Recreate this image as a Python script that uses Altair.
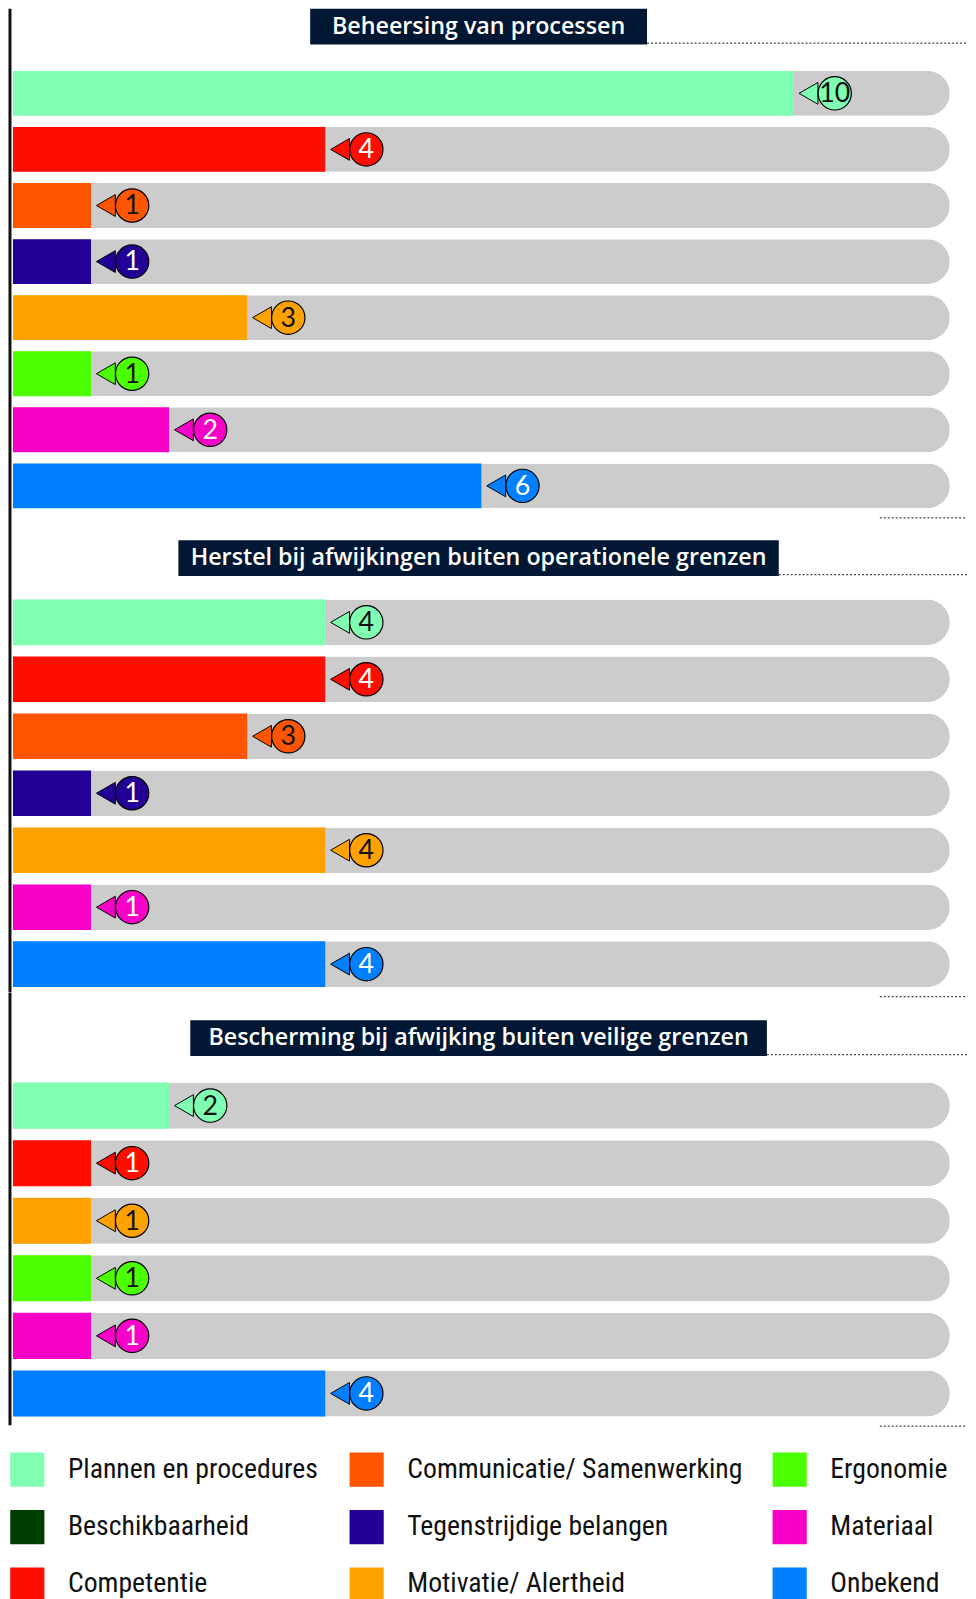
import altair as alt
import pandas as pd

# ---------------- data ----------------
CATEGORIES = ["Plannen en procedures", "Beschikbaarheid", "Competentie",
              "Communicatie/ Samenwerking", "Tegenstrijdige belangen", "Motivatie/ Alertheid",
              "Ergonomie", "Materiaal", "Onbekend"]
COLORS = ["#80FFB3", "#003D00", "#FF0D00", "#FF5500", "#220096", "#FFA200",
          "#4CFF00", "#F700C8", "#0080FF"]
NUMBER_COLORS = ["#111111", "#FFFFFF", "#FFFFFF", "#111111", "#FFFFFF", "#111111",
                 "#111111", "#FFFFFF", "#FFFFFF"]
LEGEND_COL = [0, 0, 0, 1, 1, 1, 2, 2, 2]
LEGEND_ROW = [0, 1, 2, 0, 1, 2, 0, 1, 2]

TITLES = ["Beheersing van processen",
          "Herstel bij afwijkingen buiten operationele grenzen",
          "Bescherming bij afwijking buiten veilige grenzen"]

SEC1_CATS = ["Plannen en procedures", "Competentie", "Communicatie/ Samenwerking",
             "Tegenstrijdige belangen", "Motivatie/ Alertheid", "Ergonomie", "Materiaal", "Onbekend"]
SEC1_VALUES = [10, 4, 1, 1, 3, 1, 2, 6]

SEC2_CATS = ["Plannen en procedures", "Competentie", "Communicatie/ Samenwerking",
             "Tegenstrijdige belangen", "Motivatie/ Alertheid", "Materiaal", "Onbekend"]
SEC2_VALUES = [4, 4, 3, 1, 4, 1, 4]

SEC3_CATS = ["Plannen en procedures", "Competentie", "Motivatie/ Alertheid",
             "Ergonomie", "Materiaal", "Onbekend"]
SEC3_VALUES = [2, 1, 1, 1, 1, 4]

TRACK_MAX = 12

# ---------------- style ----------------
W = 963
K = 78.8
XMAX = W / K
CENTER = 470
LABEL_FONT = "Liberation Sans Narrow, Roboto Condensed, Roboto, sans-serif"
TITLE_FONT = "Open Sans, Noto Sans, sans-serif"
NUM_FONT = "Lato, Open Sans, sans-serif"
NAVY = "#021733"
SPACING = 80.5
P_IN = 0.2

color_scale = alt.Scale(domain=CATEGORIES, range=COLORS)
text_color = dict(zip(CATEGORIES, NUMBER_COLORS))


def section(title, cats, values, step, half_w, box_top, top, bottom_extra, extra_top=0.0):
    n = len(cats)
    h = step * n + extra_top
    p_out = 0.1 + extra_top / (2 * step)
    start = 0.1 * step + extra_top
    align = start / (2 * p_out * step)
    df = pd.DataFrame({"cat": cats, "value": values,
                       "track": [TRACK_MAX] * n,
                       "tcol": [text_color[c] for c in cats]})
    xs = alt.Scale(domain=[0, XMAX], nice=False, zero=True)
    y = alt.Y("cat:N", sort=cats, axis=None,
              scale=alt.Scale(paddingInner=P_IN, paddingOuter=p_out, align=align))
    base = alt.Chart(df)
    track = base.mark_bar(color="#CCCCCC", cornerRadiusEnd=23).encode(
        x=alt.X("track:Q", scale=xs, axis=None), y=y)
    bar = base.mark_bar().encode(
        x=alt.X("value:Q", scale=xs, axis=None), y=y,
        color=alt.Color("cat:N", scale=color_scale, legend=None))
    tri = base.mark_point(shape="triangle-left", filled=True, size=484, stroke="black",
                          strokeWidth=1, opacity=1, xOffset=15).encode(
        x=alt.X("value:Q", scale=xs, axis=None), y=y,
        color=alt.Color("cat:N", scale=color_scale, legend=None))
    circ = base.mark_point(shape="circle", filled=True, size=1130, stroke="black",
                           strokeWidth=1.2, opacity=1, xOffset=41.5).encode(
        x=alt.X("value:Q", scale=xs, axis=None), y=y,
        color=alt.Color("cat:N", scale=color_scale, legend=None))
    num = base.mark_text(dx=41.5, dy=1, font=NUM_FONT, fontSize=27, align="center",
                         baseline="middle").encode(
        x=alt.X("value:Q", scale=xs, axis=None), y=y, text="value:Q",
        color=alt.Color("tcol:N", scale=None))

    tdf = alt.Chart(pd.DataFrame({"title": [title]}))
    box = tdf.mark_rect(color=NAVY).encode(
        x=alt.value(CENTER - half_w), x2=alt.value(CENTER + half_w),
        y=alt.value(box_top), y2=alt.value(box_top + 36))
    ttext = tdf.mark_text(font=TITLE_FONT, fontSize=23.5, fontWeight=600, color="white",
                          align="center", baseline="middle").encode(
        x=alt.value(CENTER), y=alt.value(box_top + 18), text="title:N")
    dot_top = tdf.mark_rule(strokeDash=[2, 2], color="#444444", strokeWidth=1.3).encode(
        x=alt.value(CENTER + half_w), x2=alt.value(W), y=alt.value(box_top + 34.5))
    dot_bottom = tdf.mark_rule(strokeDash=[2, 2], color="#444444", strokeWidth=1.3).encode(
        x=alt.value(875), x2=alt.value(W), y=alt.value(h + 4))
    vline = tdf.mark_rule(color="#111111", strokeWidth=3).encode(
        x=alt.value(-3), y=alt.value(top), y2=alt.value(h + bottom_extra))

    return alt.layer(track, bar, tri, circ, num, box, ttext, dot_top, dot_bottom, vline
                     ).properties(width=W, height=h)


s1 = section(TITLES[0], SEC1_CATS, SEC1_VALUES, 56.6, 170, -57, -57, 0)
s2 = section(TITLES[1], SEC2_CATS, SEC2_VALUES, 57.5, 303, -54, -SPACING, 0)
s3 = section(TITLES[2], SEC3_CATS, SEC3_VALUES, 58.1, 291, -53, -SPACING, 3, extra_top=4)

ldf = pd.DataFrame({"label": CATEGORIES, "color": COLORS, "col": LEGEND_COL, "row": LEGEND_ROW})
lx = alt.X("col:Q", axis=None,
           scale=alt.Scale(domain=[0, 1, 2], range=[14.5, 357, 784], nice=False, zero=False))
ly = alt.Y("row:O", axis=None)
lbase = alt.Chart(ldf)
sw = lbase.mark_square(size=1190, opacity=1, yOffset=-62).encode(
    x=lx, y=ly, color=alt.Color("color:N", scale=None))
lt = lbase.mark_text(align="left", baseline="middle", dx=41, yOffset=-62, font=LABEL_FONT,
                     fontSize=28, color="#111111").encode(x=lx, y=ly, text="label:N")
legend = alt.layer(sw, lt).properties(width=W, height=174)

chart = alt.vconcat(s1, s2, s3, legend, spacing=SPACING, bounds="flush").properties(
    padding={"left": 0, "top": -9, "right": 0, "bottom": 0}
).configure_view(stroke=None)

chart.save("out.html", embed_options={"renderer": "svg", "actions": False})
